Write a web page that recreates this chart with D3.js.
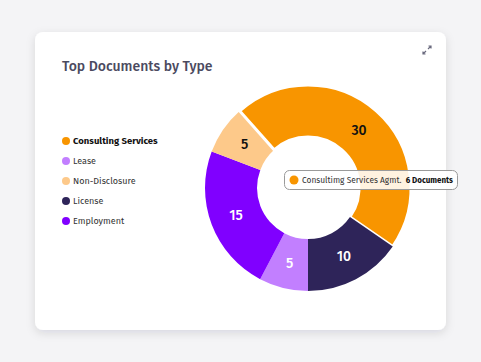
<!DOCTYPE html>
<html>
<head>
<meta charset="utf-8">
<script src="https://cdn.jsdelivr.net/npm/d3@7"></script>
<style>
  html, body { margin: 0; padding: 0; background: #f4f4f6; }
  svg { display: block; font-family: "Fira Sans", Lato, "Open Sans", sans-serif; }
</style>
</head>
<body>
<script>
// chart data
var categories = ["Consulting Services", "Lease", "Non-Disclosure", "License", "Employment"];
var values = [30, 5, 5, 10, 15];
var colors = ["#f89500", "#c27fff", "#fdc98a", "#2e2459", "#8000ff"];
var labelColors = ["#111", "#fff", "#111", "#fff", "#fff"];
// drawing order around the ring, clockwise from the bottom
var ringOrder = ["Lease", "Employment", "Non-Disclosure", "Consulting Services", "License"];
var tooltipName = "Consultimg Services Agmt.";
var tooltipValue = "6 Documents";

var W = 481, H = 362;
var svg = d3.select("body").append("svg").attr("width", W).attr("height", H);

var defs = svg.append("defs");
var f = defs.append("filter").attr("id", "shadow").attr("x", "-10%").attr("y", "-10%").attr("width", "120%").attr("height", "130%");
f.append("feDropShadow").attr("dx", 0).attr("dy", 3).attr("stdDeviation", 5)
  .attr("flood-color", "#20203a").attr("flood-opacity", 0.12);

// card
svg.append("rect").attr("x", 35).attr("y", 32).attr("width", 411).attr("height", 298)
  .attr("rx", 8).attr("fill", "#fff").attr("filter", "url(#shadow)");

svg.append("text").attr("x", 62).attr("y", 71).text("Top Documents by Type")
  .attr("font-size", 14).attr("font-weight", 500).attr("fill", "#4b4a5f");

// expand icon
var ic = svg.append("g").attr("transform", "translate(427,50)")
  .attr("stroke", "#6a6a7e").attr("stroke-width", 1.2).attr("fill", "none");
ic.append("path").attr("d", "M1,-1 L4,-4 M1.5,-4 L4,-4 L4,-1.5");
ic.append("path").attr("d", "M-1,1 L-4,4 M-1.5,4 L-4,4 L-4,1.5");

// legend
var legend = svg.append("g").attr("transform", "translate(66,141)");
var li = legend.selectAll("g").data(categories).enter().append("g")
  .attr("transform", function(d, i) { return "translate(0," + (i * 20) + ")"; });
li.append("circle").attr("r", 4).attr("fill", function(d, i) { return colors[i]; });
li.append("text").attr("x", 7).attr("dy", "0.35em").text(function(d) { return d; })
  .attr("font-size", function(d, i) { return i == 0 ? 9.5 : 9; })
  .attr("font-weight", function(d, i) { return i == 0 ? 700 : 400; })
  .attr("fill", function(d, i) { return i == 0 ? "#111" : "#333"; });

// donut
var cx = 308, cy = 188, r0 = 51, r1 = 103;
var data = ringOrder.map(function(n) {
  var i = categories.indexOf(n);
  return { name: n, value: values[i], color: colors[i], label: labelColors[i] };
});
var pie = d3.pie().sort(null).value(function(d) { return d.value; })
  .startAngle(Math.PI).endAngle(3 * Math.PI);
var arc = d3.arc().innerRadius(r0).outerRadius(r1);
var g = svg.append("g").attr("transform", "translate(" + cx + "," + cy + ")");
var arcs = pie(data);
g.selectAll("path").data(arcs).enter().append("path")
  .attr("d", arc)
  .attr("fill", function(d) { return d.data.color; })
  .attr("stroke", function(d) { return d.data.name == "Consulting Services" ? "#fff" : "none"; })
  .attr("stroke-width", 3);
g.selectAll("text").data(arcs).enter().append("text")
  .attr("transform", function(d) { return "translate(" + arc.centroid(d) + ")"; })
  .attr("text-anchor", "middle").attr("dy", "0.35em")
  .attr("font-size", 14).attr("font-weight", 500)
  .attr("fill", function(d) { return d.data.label; })
  .text(function(d) { return d.data.value; });

// tooltip
var tt = svg.append("g").attr("transform", "translate(284,170)");
tt.append("rect").attr("x", 0.5).attr("y", 0.5).attr("width", 173).attr("height", 19).attr("rx", 5)
  .attr("fill", "#fff").attr("fill-opacity", 0.88).attr("stroke", "#9a9a9a").attr("stroke-width", 1);
tt.append("circle").attr("cx", 10).attr("cy", 10).attr("r", 4.5).attr("fill", colors[0]);
tt.append("text").attr("x", 18).attr("y", 10).attr("dy", "0.35em").attr("font-size", 8.4)
  .attr("fill", "#333").text(tooltipName);
tt.append("text").attr("x", 169).attr("y", 10).attr("dy", "0.35em").attr("text-anchor", "end")
  .attr("font-size", 8).attr("font-weight", 700).attr("fill", "#111").text(tooltipValue);
</script>
</body>
</html>
